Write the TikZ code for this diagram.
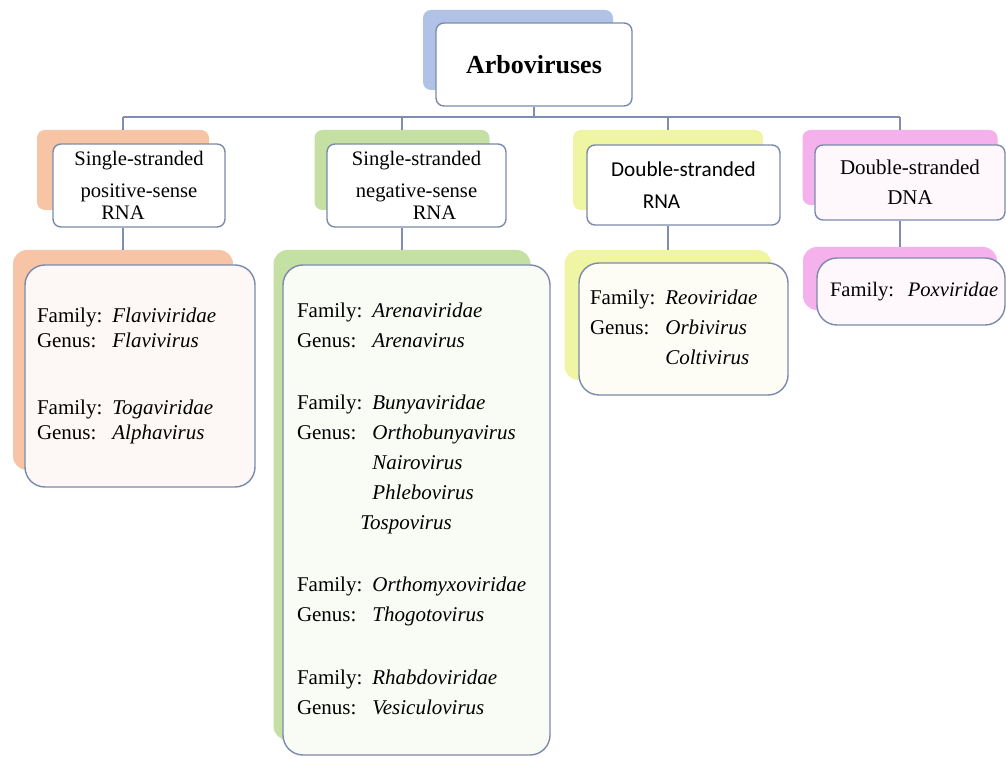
\documentclass[tikz,border=0pt]{standalone}
\usepackage{fontspec}
\setmainfont{Liberation Serif}
\newfontfamily\calibfont{Carlito}
\definecolor{linkgray}{HTML}{7F8EB0}
\definecolor{boxgray}{HTML}{7B8AAB}
\definecolor{topblue}{HTML}{B0C3E6}
\definecolor{peach}{HTML}{F7C4A5}
\definecolor{leaf}{HTML}{C5E0A3}
\definecolor{lemon}{HTML}{EFF5A3}
\definecolor{orchid}{HTML}{F5B1EB}
\definecolor{peachlight}{HTML}{FDF8F5}
\definecolor{leaflight}{HTML}{F9FBF5}
\definecolor{lemonlight}{HTML}{FDFDF6}
\definecolor{orchidlight}{HTML}{FEF8FD}
\tikzset{
  link/.style={draw=linkgray, line width=0.75pt},
  backplate/.style={rounded corners=4pt, inner sep=0pt, draw=none},
  headbox/.style={draw=boxgray, line width=0.7pt, fill=white, rounded corners=4pt,
    inner sep=0pt, align=center, font=\fontsize{10.3}{13}\selectfont},
  listbox/.style={draw=boxgray, line width=0.7pt, rounded corners=10pt,
    inner ysep=0pt, align=left},
}
\begin{document}
\begin{tikzpicture}[x=0.5pt, y=-0.5pt]
  \useasboundingbox (0,0) rectangle (1006,758);
  % top
  \node[backplate, fill=topblue, minimum width=95pt, minimum height=40pt] (tb) at (518,50) {};
  \node[headbox, minimum width=98pt, minimum height=41.5pt,
    font=\fontsize{13}{15}\selectfont\bfseries] (top) at (534,64.5) {Arboviruses};
  % genome types
  \node[backplate, fill=peach, minimum width=86pt, minimum height=40pt] (gb1) at (123,170) {};
  \node[headbox, minimum width=86pt, minimum height=41.5pt] (g1) at (139,185.5)
    {Single-stranded\\[3pt]positive-sense\\[-2pt]\hspace*{-16pt}RNA};
  \node[backplate, fill=leaf, minimum width=87.5pt, minimum height=40pt] (gb2) at (402,170) {};
  \node[headbox, minimum width=89.5pt, minimum height=41.5pt] (g2) at (416.5,185.5)
    {Single-stranded\\[3pt]negative-sense\\[-2pt]\hspace*{18pt}RNA};
  \node[backplate, fill=lemon, minimum width=95pt, minimum height=40pt] (gb3) at (668,170) {};
  \node[headbox, minimum width=96.5pt, minimum height=40pt,
    font=\calibfont\fontsize{10.6}{16}\selectfont] (g3) at (683.5,185)
    {Double-stranded\\\hspace*{-22pt}RNA};
  \node[backplate, fill=orchid, minimum width=97.5pt, minimum height=37.5pt] (gb4) at (900,167.5) {};
  \node[headbox, fill=orchidlight, minimum width=95pt, minimum height=37.5pt,
    font=\fontsize{10.5}{15}\selectfont] (g4) at (910,182.5)
    {Double-stranded\\DNA};
  % families and genera
  \node[backplate, rounded corners=7pt, fill=peach, minimum width=110pt, minimum height=110pt] (fb1) at (123,360) {};
  \node[listbox, fill=peachlight, text width=103pt, inner xsep=6pt, minimum height=111pt,
    font=\fontsize{10.5}{12.5}\selectfont] (f1) at (140,376) {%
    \begin{tabular}{@{}l@{\hspace{5pt}}l@{}}
      Family: & \textit{Flaviviridae}\\
      Genus:  & \textit{Flavivirus}\\[21pt]
      Family: & \textit{Togaviridae}\\
      Genus:  & \textit{Alphavirus}
    \end{tabular}};
  \node[backplate, rounded corners=7pt, fill=leaf, minimum width=128.5pt, minimum height=245pt] (fb2) at (402,495) {};
  \node[listbox, fill=leaflight, text width=119.5pt, inner xsep=7pt, minimum height=245pt,
    font=\fontsize{10.5}{15}\selectfont] (f2) at (416.5,510) {%
    \begin{tabular}{@{}l@{\hspace{5pt}}l@{}}
      Family: & \textit{Arenaviridae}\\
      Genus:  & \textit{Arenavirus}\\[16pt]
      Family: & \textit{Bunyaviridae}\\
      Genus:  & \textit{Orthobunyavirus}\\
              & \textit{Nairovirus}\\
              & \textit{Phlebovirus}\\
              & \hspace*{-6pt}\textit{Tospovirus}\\[16pt]
      Family: & \textit{Orthomyxoviridae}\\
      Genus:  & \textit{Thogotovirus}\\[16pt]
      Family: & \textit{Rhabdoviridae}\\
      Genus:  & \textit{Vesiculovirus}
    \end{tabular}};
  \node[backplate, rounded corners=7pt, fill=lemon, minimum width=103.5pt, minimum height=65pt] (fb3) at (668,315) {};
  \node[listbox, fill=lemonlight, text width=93.5pt, inner xsep=5.5pt, minimum height=66pt,
    font=\fontsize{10.5}{15}\selectfont] (f3) at (683.5,329) {%
    \begin{tabular}{@{}l@{\hspace{5pt}}l@{}}
      Family: & \textit{Reoviridae}\\
      Genus:  & \textit{Orbivirus}\\
              & \textit{Coltivirus}
    \end{tabular}};
  \node[backplate, rounded corners=7pt, fill=orchid, minimum width=97pt, minimum height=31.5pt] (fb4) at (900,278.5) {};
  \node[listbox, fill=orchidlight, text width=81pt, inner xsep=6.5pt, minimum height=33.5pt,
    font=\fontsize{10.3}{15}\selectfont] (f4) at (911,291.5)
    {\mbox{Family:\ \ \textit{Poxviridae}}};
  % connectors
  \coordinate (bus) at (0,117);
  \draw[link] (gb1.north |- bus) -- (gb4.north |- bus);
  \draw[link] (top.south) -- (top.south |- bus);
  \foreach \i in {1,...,4} {
    \draw[link] (gb\i.north) -- (gb\i.north |- bus);
    \draw[link] (fb\i.north) -- (fb\i.north |- g\i.south);
  }
\end{tikzpicture}
\end{document}
